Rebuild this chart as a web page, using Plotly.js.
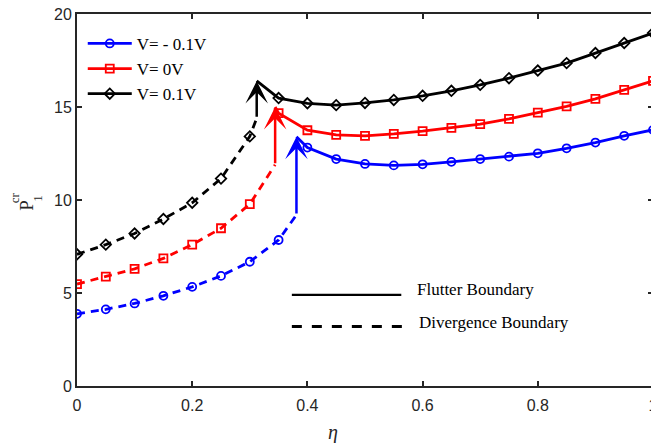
<!DOCTYPE html>
<html>
<head>
<meta charset="utf-8">
<script src="https://cdn.plot.ly/plotly-3.0.1.min.js"></script>
<style>
html,body{margin:0;padding:0;overflow:hidden;background:#fff;}
#chart{width:680px;height:443px;}
</style>
</head>
<body>
<div id="chart"></div>
<script>
// ---- data ----
const eta = [0,0.05,0.1,0.15,0.2,0.25,0.3,0.35,0.4,0.45,0.5,0.55,0.6,0.65,0.7,0.75,0.8,0.85,0.9,0.95,1.0];
const seriesNames = ['V= - 0.1V','V= 0V','V= 0.1V'];
const pBlue  = [3.88,4.12,4.44,4.85,5.33,5.92,6.68,7.85,12.82,12.2,11.94,11.86,11.92,12.05,12.2,12.33,12.51,12.78,13.09,13.45,13.77];
const pRed   = [5.48,5.88,6.3,6.86,7.6,8.48,9.78,14.67,13.75,13.5,13.45,13.55,13.7,13.88,14.08,14.36,14.7,15.03,15.44,15.92,16.4];
const pBlack = [7.08,7.6,8.2,8.98,9.85,11.15,13.42,15.48,15.2,15.1,15.22,15.38,15.6,15.87,16.19,16.55,16.96,17.36,17.9,18.44,18.98];
const lastDivergenceIndex = [7,6,6];       // last marker on the divergence (dashed) branch
const arrowEta  = [0.381,0.344,0.312];     // eta of the jump arrows
const arrowFrom = [9.2,11.9,14.4];         // arrow tail value
const arrowTo   = [13.4,15.0,16.4];        // arrow tip value
const xTicks = [0,0.2,0.4,0.6,0.8,1];
const yTicks = [0,5,10,15,20];

// ---- styles ----
const colors = ['#0000ff','#ff0000','#000000'];
const symbols = ['circle-open','square-open','diamond-open'];
const allSeries = [pBlue,pRed,pBlack];
const serif = 'Liberation Serif, Times New Roman, serif';

const traces = [];
const annotations = [];
allSeries.forEach((vals,i)=>{
  const k = lastDivergenceIndex[i];
  traces.push({x: eta.slice(0,k+1).concat([arrowEta[i]]), y: vals.slice(0,k+1).concat([arrowFrom[i]]),
    mode:'lines', line:{color:colors[i], width:2.8, dash:'8px,6px'}, showlegend:false, hoverinfo:'skip'});
  traces.push({x: [arrowEta[i]].concat(eta.slice(k+1)), y: [arrowTo[i]].concat(vals.slice(k+1)),
    mode:'lines', line:{color:colors[i], width:2.8}, showlegend:false, hoverinfo:'skip'});
  traces.push({x: eta, y: vals, mode:'markers',
    marker:{symbol:symbols[i], size:8, color:colors[i], line:{color:colors[i], width:1.8}},
    showlegend:false});
  annotations.push({x:arrowEta[i], y:arrowTo[i], ax:arrowEta[i], ay:arrowFrom[i],
    xref:'x', yref:'y', axref:'x', ayref:'y', text:'', showarrow:true,
    arrowhead:3, arrowsize:1.5, arrowwidth:2.5, arrowcolor:colors[i], standoff:0, startstandoff:0});
});
// legend entries
allSeries.forEach((vals,i)=>{
  traces.push({x:[null], y:[null], mode:'lines+markers', name:seriesNames[i],
    line:{color:colors[i], width:2.8},
    marker:{symbol:symbols[i], size:8, color:colors[i], line:{color:colors[i], width:1.8}}});
});

// y-axis title P_1^cr and x title
annotations.push({xref:'paper', yref:'paper', x:-0.087, y:0.487, text:'P', textangle:-90, showarrow:false,
  font:{family:serif, size:19, color:'#262626'}, xanchor:'center', yanchor:'middle'});
annotations.push({xref:'paper', yref:'paper', x:-0.108, y:0.507, text:'cr', textangle:-90, showarrow:false,
  font:{family:serif, size:13, color:'#262626'}, xanchor:'center', yanchor:'middle'});
annotations.push({xref:'paper', yref:'paper', x:-0.07, y:0.505, text:'1', textangle:-90, showarrow:false,
  font:{family:serif, size:13, color:'#262626'}, xanchor:'center', yanchor:'middle'});
annotations.push({xref:'paper', yref:'paper', x:0.444, y:-0.124, text:'<i>η</i>', showarrow:false,
  font:{family:serif, size:20, color:'#262626'}, xanchor:'center', yanchor:'middle'});
// boundary key
annotations.push({xref:'x', yref:'y', x:0.587, y:5.2, text:'Flutter Boundary', showarrow:false,
  font:{family:serif, size:17, color:'#000'}, xanchor:'left', yanchor:'middle'});
annotations.push({xref:'x', yref:'y', x:0.591, y:3.4, text:'Divergence Boundary', showarrow:false,
  font:{family:serif, size:17, color:'#000'}, xanchor:'left', yanchor:'middle'});

const shapes = [
  {type:'line', xref:'x', yref:'y', x0:0.373, x1:0.563, y0:4.9, y1:4.9, line:{color:'#000', width:2.2}},
  {type:'line', xref:'x', yref:'y', x0:0.373, x1:0.566, y0:3.2, y1:3.2, line:{color:'#000', width:3, dash:'10px,10px'}}
];

const axisCommon = {showgrid:false, zeroline:false, showline:true, linecolor:'#262626', linewidth:2,
  mirror:'ticks', ticks:'inside', ticklen:5, tickwidth:2, tickcolor:'#262626',
  tickfont:{family:'Liberation Sans, Arial, sans-serif', size:16, color:'#262626'}};

const layout = {
  width:680, height:443,
  margin:{l:77, r:27, t:14, b:57},
  paper_bgcolor:'#fff', plot_bgcolor:'#fff',
  xaxis:Object.assign({}, axisCommon, {range:[0,1], tickvals:xTicks, ticktext:xTicks.map(String), ticklabelstandoff:4}),
  yaxis:Object.assign({}, axisCommon, {range:[0,20], tickvals:yTicks, ticktext:yTicks.map(String)}),
  showlegend:true,
  legend:{x:0.01, y:0.968, xanchor:'left', yanchor:'top', bgcolor:'rgba(255,255,255,0)',
    font:{family:serif, size:17, color:'#000'}, tracegroupgap:0, itemwidth:44},
  annotations:annotations,
  shapes:shapes
};
Plotly.newPlot('chart', traces, layout, {displayModeBar:false, staticPlot:true});
</script>
</body>
</html>
